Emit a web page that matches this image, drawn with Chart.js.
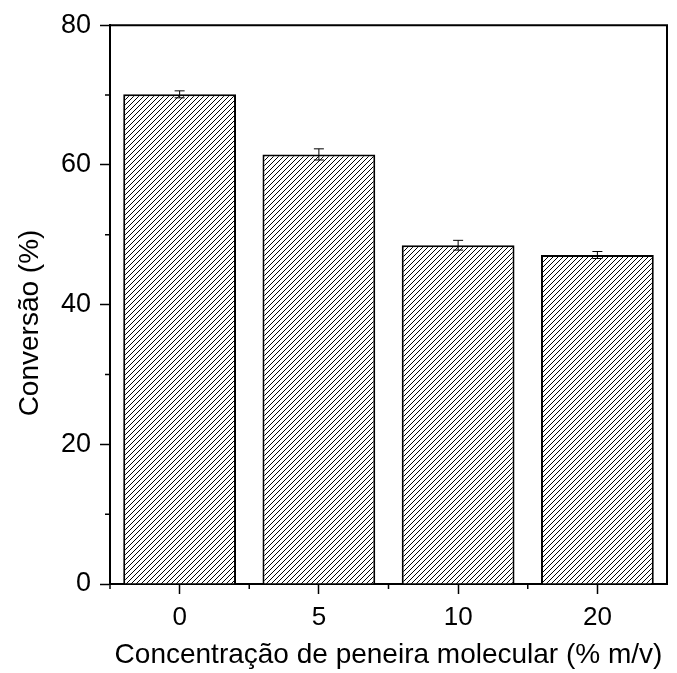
<!DOCTYPE html>
<html>
<head>
<meta charset="utf-8">
<script src="https://cdn.jsdelivr.net/npm/chart.js@4"></script>
<style>
  html, body { margin: 0; padding: 0; background: #fff; }
  #wrap { width: 677px; height: 673px; }
</style>
</head>
<body>
<div id="wrap"><canvas id="conv"></canvas></div>
<script>
// data
const categories = ["0", "5", "10", "20"];
const conversion = [70.1, 61.5, 48.5, 47.1];
const conversionErr = [0.5, 0.8, 0.7, 0.5];
const yTicks = [0, 20, 40, 60, 80];
const yTitle = "Conversão (%)";
const xTitle = "Concentração de peneira molecular (% m/v)";

const FONT = "'Liberation Sans', Arial, sans-serif";

// diagonal hatch fill
const makeHatch = function () {
  const c = document.createElement("canvas");
  const s = 5;
  c.width = s;
  c.height = s;
  const g = c.getContext("2d");
  g.fillStyle = "#fff";
  g.fillRect(0, 0, s, s);
  g.strokeStyle = "#000";
  g.lineWidth = 1;
  g.beginPath();
  g.moveTo(-1, s + 1);
  g.lineTo(s + 1, -1);
  g.moveTo(-1, 1);
  g.lineTo(1, -1);
  g.moveTo(s - 1, s + 1);
  g.lineTo(s + 1, s - 1);
  g.stroke();
  return g.createPattern(c, "repeat");
};

// frame, minor ticks, error bars and y title
const extras = {
  id: "extras",
  afterDatasetsDraw(chart) {
    const { ctx, chartArea: { left, right, top, bottom }, scales: { x, y } } = chart;
    ctx.save();
    ctx.strokeStyle = "#000";
    ctx.lineWidth = 1;
    const meta = chart.getDatasetMeta(0);
    meta.data.forEach((bar, i) => {
      const yt = y.getPixelForValue(conversion[i] + conversionErr[i]);
      const yb = y.getPixelForValue(conversion[i] - conversionErr[i]);
      ctx.beginPath();
      ctx.moveTo(bar.x, yt);
      ctx.lineTo(bar.x, yb);
      ctx.moveTo(bar.x - 5, yt);
      ctx.lineTo(bar.x + 5, yt);
      ctx.moveTo(bar.x - 5, yb);
      ctx.lineTo(bar.x + 5, yb);
      ctx.stroke();
    });

    ctx.lineWidth = 2;
    ctx.beginPath();
    ctx.moveTo(left, top);
    ctx.lineTo(right, top);
    ctx.lineTo(right, bottom);
    ctx.stroke();

    // minor ticks
    ctx.lineWidth = 1.5;
    ctx.beginPath();
    for (let v = 10; v < 80; v += 20) {
      const py = y.getPixelForValue(v);
      ctx.moveTo(left - 5, py);
      ctx.lineTo(left, py);
    }
    const step = x.getPixelForValue(1) - x.getPixelForValue(0);
    for (let i = 0; i < categories.length; i++) {
      const px = x.getPixelForValue(i) - step / 2;
      ctx.moveTo(px, bottom);
      ctx.lineTo(px, bottom + 5);
    }
    ctx.stroke();

    // y axis title
    ctx.translate(38, 323);
    ctx.rotate(-Math.PI / 2);
    ctx.fillStyle = "#000";
    ctx.font = "28px " + FONT;
    ctx.textAlign = "center";
    ctx.textBaseline = "alphabetic";
    ctx.fillText(yTitle, 0, 0);
    ctx.restore();
  },
};

const ctx = document.getElementById("conv").getContext("2d");

const config = {
  type: "bar",
  data: {
    labels: categories,
    datasets: [
      {
        data: conversion,
        backgroundColor: makeHatch(),
        borderColor: "#000",
        borderWidth: 2,
        barPercentage: 0.81,
        categoryPercentage: 1,
      },
    ],
  },
  options: {
    responsive: true,
    maintainAspectRatio: false,
    animation: false,
    layout: { padding: { top: 25, right: 10, left: 0, bottom: 0 } },
    plugins: {
      legend: { display: false },
      tooltip: { enabled: false },
    },
    scales: {
      x: {
        offset: true,
        grid: {
          display: true,
          offset: false,
          drawOnChartArea: false,
          drawTicks: true,
          tickLength: 10,
          tickWidth: 1.5,
          tickColor: "#000",
        },
        border: { display: true, color: "#000", width: 2 },
        ticks: {
          color: "#000",
          padding: 8,
          font: { family: FONT, size: 26 },
        },
        title: {
          display: true,
          text: xTitle,
          color: "#000",
          font: { family: FONT, size: 28 },
          padding: { top: 0, bottom: 1 },
        },
        afterFit(scale) {
          scale.height = 89;
        },
      },
      y: {
        min: 0,
        max: 80,
        afterBuildTicks(scale) {
          scale.ticks = yTicks.map((v) => ({ value: v }));
        },
        grid: {
          display: true,
          drawOnChartArea: false,
          drawTicks: true,
          tickLength: 10,
          tickWidth: 1.5,
          tickColor: "#000",
        },
        border: { display: true, color: "#000", width: 2 },
        ticks: {
          color: "#000",
          padding: 9,
          font: { family: FONT, size: 27 },
        },
        afterFit(scale) {
          scale.width = 110;
        },
      },
    },
  },
  plugins: [extras],
};

new Chart(ctx, config);
</script>
</body>
</html>
